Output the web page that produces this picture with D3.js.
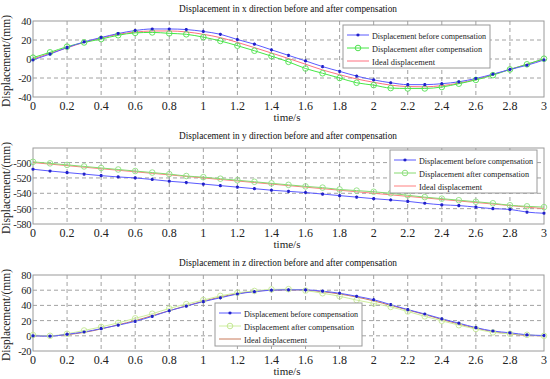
<!DOCTYPE html>
<html>
<head>
<meta charset="utf-8">
<script src="https://cdn.jsdelivr.net/npm/d3@7"></script>
<style>
  body { margin: 0; background: #fff; }
</style>
</head>
<body>
<div id="chart"></div>
<script>
// time samples (s)
const times = [0, 0.1, 0.2, 0.3, 0.4, 0.5, 0.6, 0.7, 0.8, 0.9, 1.0, 1.1, 1.2, 1.3, 1.4, 1.5,
  1.6, 1.7, 1.8, 1.9, 2.0, 2.1, 2.2, 2.3, 2.4, 2.5, 2.6, 2.7, 2.8, 2.9, 3.0]

// x direction
const xBefore = [-1, 5.2, 12, 18, 22.6, 26.8, 30, 31.6, 31.6, 31, 29, 26, 20.5, 15.6, 9.7, 3.8,
  -2, -8, -13, -18, -22, -25, -27, -27, -26, -24, -20.5, -16, -11, -6.6, -1]
const xAfter = [1.4, 7, 13, 17.4, 21, 25, 27.5, 28, 27, 26, 23, 19, 14, 8.7, 3, -3,
  -10, -15, -20, -25, -27.5, -30.6, -31, -31, -29.5, -26, -22, -17, -11, -5.6, 0.3]
const xIdeal = [0, 6, 11.8, 17.5, 22, 26, 28.3, 29.5, 29.5, 28.5, 26, 22.5, 17.5, 12, 6.3, 0.5,
  -5.5, -11.5, -16.5, -21, -24.5, -27.5, -29, -29.3, -28, -25.5, -21.5, -16.5, -11, -5.5, -0.3]

// y direction
const yBefore = [-508.7, -511, -513, -515, -517, -518.7, -520, -522, -524.3, -526, -528, -530, -532, -534, -536,
  -537.5, -539, -541, -543, -545, -547, -548.7, -550.5, -553, -555, -556, -558, -560, -561, -564.5, -566]
const yAfter = [-499, -501, -503, -505, -507, -509, -511, -513, -515, -517.5, -519, -521, -523, -525, -527, -529,
  -531, -532.6, -535, -536.5, -538, -540, -542.6, -545, -547, -549, -551, -553, -555.6, -557, -558]
const yIdeal = [-500, -502, -504, -506, -508, -510, -512, -514, -516, -518, -520, -522, -524, -526, -528, -530,
  -532, -534, -536, -538, -540, -542, -544, -546, -548, -550, -552, -554, -556, -558, -560]

// z direction
const zBefore = [0, -0.5, 2, 5, 9.4, 14, 19, 25.6, 33, 39, 45, 50, 55, 58, 60, 60.5,
  60.5, 58.7, 56, 52, 47.5, 41, 34.5, 28.7, 22.4, 16.6, 10.8, 6.3, 4, 1.3, 0.4]
const zAfter = [1, 0, 2.7, 7, 11.7, 17, 23, 29, 36, 41.7, 47, 52.5, 56.5, 59, 61, 61.4,
  59.5, 56, 52, 47, 42.6, 38, 32, 25.6, 19.7, 14, 9, 4.5, 2.7, 1.3, 0]
const zIdeal = [0, 0, 1.5, 4.5, 9, 14.5, 20, 26.5, 33, 39.5, 45.5, 51, 55.5, 58.5, 60, 60.5,
  60, 58, 55, 51, 46, 40, 34, 28, 21.5, 15.5, 10, 5.5, 2.5, 0.5, 0]

const xTicks = [0, 0.2, 0.4, 0.6, 0.8, 1, 1.2, 1.4, 1.6, 1.8, 2, 2.2, 2.4, 2.6, 2.8, 3]
const legendLabels = ['Displacement before compensation', 'Displacement after compensation', 'Ideal displacement']
const legendWidths = [114, 110, 63]

const panels = [
  { title: 'Displacement in x direction before and after compensation', top: 21, domain: [-40, 40],
    ticks: [-40, -20, 0, 20, 40], series: [xBefore, xAfter, xIdeal],
    colors: ['#5a5aff', '#45e845', '#ff7080'], marker: ['#2020c8', '#50e050'], legend: [343, 25] },
  { title: 'Displacement in y direction before and after compensation', top: 148, domain: [-580, -481],
    ticks: [-580, -560, -540, -520, -500], series: [yBefore, yAfter, yIdeal],
    colors: ['#5a5aff', '#86da70', '#ff8080'], marker: ['#2020c8', '#90e080'], legend: [390, 150] },
  { title: 'Displacement in z direction before and after compensation', top: 275, domain: [-20, 80],
    ticks: [-20, 0, 20, 40, 60, 80], series: [zBefore, zAfter, zIdeal],
    colors: ['#5a5aff', '#cdee9e', '#c87a5a'], marker: ['#2020c8', '#c4e894'], legend: [215, 303] }
]

const W = 550, H = 379
const left = 33, right = 544, plotH = 76
const serif = "'Liberation Serif', 'DejaVu Serif', serif"

const svg = d3.select('#chart').append('svg')
  .attr('width', W).attr('height', H)
  .attr('font-family', serif)

const xScale = d3.scaleLinear().domain([0, 3]).range([left, right])

panels.forEach(p => {
  const y = d3.scaleLinear().domain(p.domain).range([p.top + plotH, p.top])
  const g = svg.append('g')

  // grid
  g.append('g')
    .selectAll('line')
    .data(xTicks.slice(1, -1))
    .join('line')
    .attr('x1', d => xScale(d)).attr('x2', d => xScale(d))
    .attr('y1', p.top).attr('y2', p.top + plotH)
    .attr('stroke', '#8a8a8a').attr('stroke-width', 0.8).attr('stroke-dasharray', '4 3')
  g.append('g')
    .selectAll('line')
    .data(p.ticks.filter(t => y(t) > p.top + 1 && y(t) < p.top + plotH - 1))
    .join('line')
    .attr('x1', left).attr('x2', right)
    .attr('y1', d => y(d)).attr('y2', d => y(d))
    .attr('stroke', '#8a8a8a').attr('stroke-width', 0.8).attr('stroke-dasharray', '4 3')

  // box
  g.append('rect')
    .attr('x', left).attr('y', p.top).attr('width', right - left).attr('height', plotH)
    .attr('fill', 'none').attr('stroke', '#9a9a9a').attr('stroke-width', 1)

  // tick labels
  g.selectAll('text.xt')
    .data(xTicks)
    .join('text')
    .attr('class', 'xt')
    .attr('font-family', serif)
    .attr('x', d => xScale(d)).attr('y', p.top + plotH + 13)
    .attr('text-anchor', 'middle').attr('font-size', 12).attr('fill', '#222')
    .text(d => d)
  g.selectAll('text.yt')
    .data(p.ticks)
    .join('text')
    .attr('class', 'yt')
    .attr('font-family', serif)
    .attr('x', left - 2).attr('y', d => y(d) + 4)
    .attr('text-anchor', 'end').attr('font-size', 10.5).attr('fill', '#222')
    .attr('letter-spacing', -0.4)
    .text(d => d)

  g.append('text')
    .attr('font-family', serif)
    .attr('x', 287).attr('y', p.top + plotH + 24)
    .attr('text-anchor', 'middle').attr('font-size', 11).attr('fill', '#222')
    .text('time/s')

  g.append('text')
    .attr('font-family', serif)
    .attr('transform', `translate(10,${p.top + plotH / 2 + 2}) rotate(-90)`)
    .attr('text-anchor', 'middle').attr('font-size', 12).attr('fill', '#222')
    .attr('textLength', 92).attr('lengthAdjust', 'spacingAndGlyphs')
    .text('Displacement/(mm)')

  g.append('text')
    .attr('font-family', serif)
    .attr('x', 288).attr('y', p.top - 9)
    .attr('text-anchor', 'middle').attr('font-size', 11).attr('fill', '#111')
    .attr('textLength', 218).attr('lengthAdjust', 'spacingAndGlyphs')
    .text(p.title)

  // lines
  const line = d3.line().x((d, i) => xScale(times[i])).y(d => y(d)).curve(d3.curveMonotoneX)
  ;[2, 1, 0].forEach(k => {
    g.append('path')
      .datum(p.series[k])
      .attr('d', line)
      .attr('fill', 'none')
      .attr('stroke', p.colors[k])
      .attr('stroke-width', 1)
  })

  // green circle markers
  g.selectAll('circle.after')
    .data(p.series[1])
    .join('circle')
    .attr('class', 'after')
    .attr('cx', (d, i) => xScale(times[i])).attr('cy', d => y(d))
    .attr('r', 2.8)
    .attr('fill', 'none').attr('stroke', p.marker[1]).attr('stroke-width', 0.9)

  // blue star markers
  const star = d3.symbol().type(d3.symbolAsterisk).size(7)
  g.selectAll('path.before')
    .data(p.series[0])
    .join('path')
    .attr('class', 'before')
    .attr('d', star)
    .attr('transform', (d, i) => `translate(${xScale(times[i])},${y(d)})`)
    .attr('fill', 'none').attr('stroke', p.marker[0]).attr('stroke-width', 1.2)

  // legend
  const [lx, ly] = p.legend
  const lg = g.append('g').attr('transform', `translate(${lx},${ly})`)
  lg.append('rect')
    .attr('width', 147).attr('height', 43)
    .attr('fill', '#fff').attr('stroke', '#9a9a9a').attr('stroke-width', 1)
  legendLabels.forEach((lab, k) => {
    const yy = 10 + k * 13
    lg.append('line')
      .attr('x1', 4).attr('x2', 26).attr('y1', yy).attr('y2', yy)
      .attr('stroke', p.colors[k]).attr('stroke-width', 1)
    if (k === 0) {
      lg.append('path').attr('d', star).attr('transform', `translate(15,${yy})`)
        .attr('fill', 'none').attr('stroke', p.marker[0]).attr('stroke-width', 1.2)
    }
    if (k === 1) {
      lg.append('circle').attr('cx', 15).attr('cy', yy).attr('r', 2.8)
        .attr('fill', 'none').attr('stroke', p.marker[1])
    }
    lg.append('text')
      .attr('font-family', serif)
      .attr('x', 29).attr('y', yy + 3.5)
      .attr('font-size', 9).attr('fill', '#222')
      .attr('textLength', legendWidths[k]).attr('lengthAdjust', 'spacingAndGlyphs')
      .text(lab)
  })
})
</script>
</body>
</html>
